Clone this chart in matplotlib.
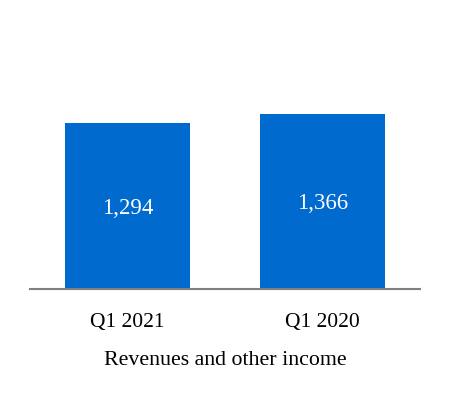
import matplotlib
matplotlib.use("Agg")
import matplotlib.pyplot as plt

categories = ["Q1 2021", "Q1 2020"]
values = [1294, 1366]
value_labels = ["1,294", "1,366"]
xlabel = "Revenues and other income"

plt.rcParams['font.family'] = ['Liberation Serif', 'DejaVu Serif']

fig = plt.figure(figsize=(4.5, 4.0), dpi=100)
ax = fig.add_axes([30/450, 111/400, 390/450, 269/400])
x = list(range(len(categories)))
bars = ax.bar(x, values, width=0.645, color="#006ACF")
ax.set_xlim(-0.5, 1.5)
ax.set_ylim(0, 1366 * 269 / 175)
for b, lab in zip(bars, value_labels):
    ax.annotate(lab, (b.get_x() + b.get_width()/2, b.get_height()/2),
                xytext=(0, -5.6), textcoords="offset points",
                ha="center", va="baseline", color="white", fontsize=16.5)
ax.set_xticks(x)
ax.set_xticklabels(categories, fontsize=15.5)
ax.tick_params(axis="x", length=0, pad=17)
ax.set_yticks([])
for s in ["top", "left", "right"]:
    ax.spines[s].set_visible(False)
ax.spines["bottom"].set_color("#7f7f7f")
ax.spines["bottom"].set_linewidth(1.5)
ax.set_xlabel(xlabel, fontsize=15.75, labelpad=14)
fig.savefig("out.png", dpi=100)
